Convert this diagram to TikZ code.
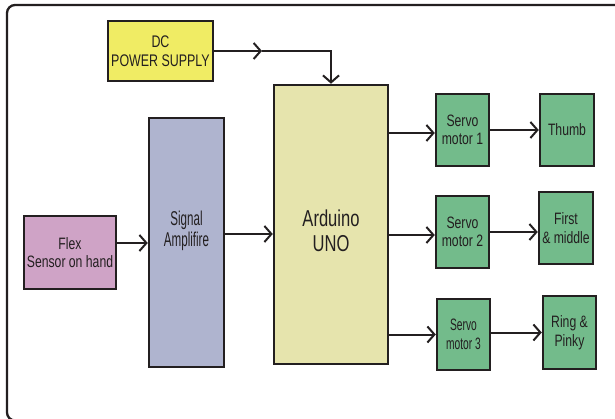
\documentclass[tikz,border=0pt]{standalone}
\usepackage{fontspec}
\setmainfont{Liberation Sans}
\newfontfamily\fn[FakeStretch=0.74]{Liberation Sans}
\newfontfamily\fs[FakeStretch=0.58]{Liberation Sans}
\newfontfamily\fa[FakeStretch=0.72]{Liberation Sans}
\newfontfamily\fm[FakeStretch=0.62]{Liberation Sans}
\usetikzlibrary{arrows.meta}
\definecolor{bord}{HTML}{231F20}
\definecolor{txt}{HTML}{231F20}
\definecolor{dcy}{HTML}{F0EC64}
\definecolor{ardy}{HTML}{E6E4AD}
\definecolor{ampb}{HTML}{AFB4CF}
\definecolor{flexp}{HTML}{CFA3C6}
\definecolor{grn}{HTML}{73BB8B}
\begin{document}
\begin{tikzpicture}[x=1pt,y=-1pt,
  box/.style={draw=bord, line width=2.5pt, inner sep=0pt, align=center, text=txt},
  smallt/.style={font=\fn\fontsize{16.5}{18.5}\selectfont},
  arr/.style={draw=bord, line width=2pt, -{Straight Barb[length=7pt,width=16pt,line width=2pt]}}
]
\useasboundingbox (0,0) rectangle (615,419);
\clip (0,0) rectangle (615,419);
\fill[white] (0,0) rectangle (615,419);
\draw[line width=2.3pt, draw=bord, rounded corners=8pt] (7,5) rectangle (640,420.5);

% boxes
\node[box, fill=dcy, minimum width=105pt, minimum height=60pt, font=\fn\fontsize{16.8}{19.5}\selectfont] (dc) at (160.5,51) {DC\\POWER SUPPLY};
\node[box, fill=ardy, minimum width=114pt, minimum height=279pt,
  label={[name=ardt, align=center, text=txt, font=\fa\fontsize{23}{25}\selectfont, yshift=-6.5pt]center:Arduino\\UNO}] (ard) at (331,224.5) {};
\node[box, fill=ampb, minimum width=75pt, minimum height=249pt,
  label={[name=ampt, align=center, text=txt, font=\fs\fontsize{20}{21.5}\selectfont, yshift=11.5pt]center:Signal\\Amplifire}] (amp) at (186.5,242.5) {};
\node[box, fill=flexp, minimum width=92pt, minimum height=73pt, font=\fn\fontsize{16.5}{18}\selectfont] (flex) at (70,252.5) {Flex\\Sensor on hand};
\node[box, fill=grn, minimum width=53pt, minimum height=72pt, smallt] (s1) at (462.5,130) {Servo\\motor 1};
\node[box, fill=grn, minimum width=53pt, minimum height=72pt, smallt] (s2) at (462.5,232) {Servo\\motor 2};
\node[box, fill=grn, minimum width=53pt, minimum height=71pt, font=\fm\fontsize{16.5}{19}\selectfont] (s3) at (463.5,334.5) {Servo\\motor 3};
\node[box, fill=grn, minimum width=54pt, minimum height=72pt, smallt] (f1) at (567,130) {Thumb};
\node[box, fill=grn, minimum width=54pt, minimum height=72pt, smallt] (f2) at (566,228) {First\\\& middle};
\node[box, fill=grn, minimum width=53pt, minimum height=73pt, smallt] (f3) at (569.5,332.5) {Ring \&\\Pinky};

% connectors
\coordinate (m1) at (262,51);
\draw[arr] (dc.east) -- (m1);
\draw[arr] (m1) -- (m1 -| ard.north) -- (ard.north);
\draw[arr] ([yshift=9.5pt]flex.east) -- ([yshift=9.5pt]flex.east -| amp.west);
\draw[arr] ([yshift=8.5pt]amp.east) -- ([yshift=8.5pt]amp.east -| ard.west);
\draw[arr] ([yshift=-3pt]s1.west -| ard.east) -- ([yshift=-3pt]s1.west);
\draw[arr] ([yshift=-3pt]s2.west -| ard.east) -- ([yshift=-3pt]s2.west);
\draw[arr] (s3.west -| ard.east) -- (s3.west);
\draw[arr] (s1.east) -- (s1.east -| f1.west);
\draw[arr] (s2.east) -- (s2.east -| f2.west);
\draw[arr] ([yshift=2pt]s3.east) -- ([yshift=2pt]s3.east -| f3.west);
\end{tikzpicture}
\end{document}
